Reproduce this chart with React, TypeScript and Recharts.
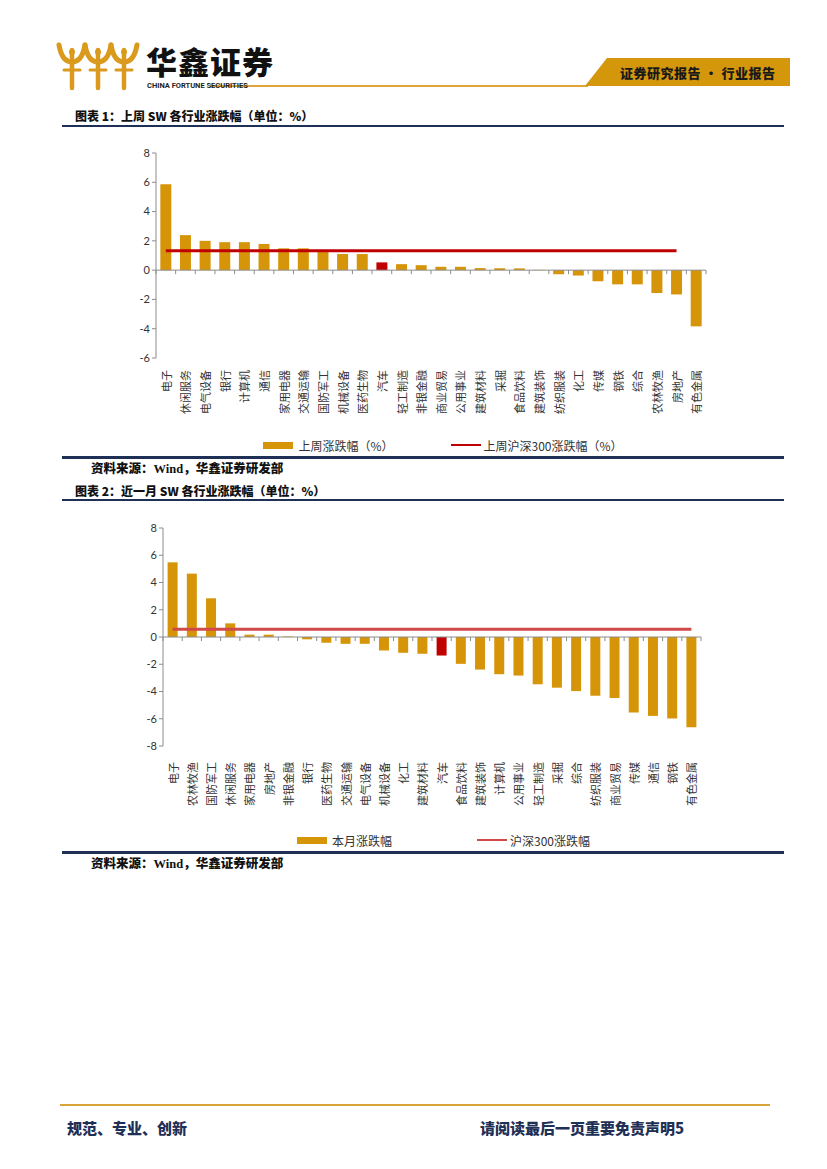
import { Bar, Cell, ComposedChart, Legend, Line, ReferenceLine, XAxis, YAxis } from 'recharts';

// 图表1：上周 SW 各行业涨跌幅
const weekCategories = [
  '电子', '休闲服务', '电气设备', '银行', '计算机', '通信', '家用电器', '交通运输', '国防军工', '机械设备',
  '医药生物', '汽车', '轻工制造', '非银金融', '商业贸易', '公用事业', '建筑材料', '采掘', '食品饮料', '建筑装饰',
  '纺织服装', '化工', '传媒', '钢铁', '综合', '农林牧渔', '房地产', '有色金属',
];
const weekChange = [
  5.86, 2.39, 2.0, 1.91, 1.91, 1.79, 1.49, 1.49, 1.3, 1.1,
  1.1, 0.53, 0.41, 0.34, 0.23, 0.23, 0.14, 0.13, 0.12, 0.02,
  -0.28, -0.37, -0.76, -0.97, -0.97, -1.56, -1.66, -3.84,
];
const weekHs300 = 1.33;
const weekHs300Points = 27; // line stops at 房地产 in the source
const weekTicks = [-6, -4, -2, 0, 2, 4, 6, 8];

// 图表2：近一月 SW 各行业涨跌幅
const monthCategories = [
  '电子', '农林牧渔', '国防军工', '休闲服务', '家用电器', '房地产', '非银金融', '银行', '医药生物', '交通运输',
  '电气设备', '机械设备', '化工', '建筑材料', '汽车', '食品饮料', '建筑装饰', '计算机', '公用事业', '轻工制造',
  '采掘', '综合', '纺织服装', '商业贸易', '传媒', '通信', '钢铁', '有色金属',
];
const monthChange = [
  5.48, 4.65, 2.84, 1.0, 0.17, 0.17, 0.04, -0.17, -0.42, -0.5,
  -0.5, -0.99, -1.16, -1.23, -1.36, -1.97, -2.39, -2.73, -2.83, -3.47,
  -3.72, -3.97, -4.31, -4.48, -5.54, -5.79, -5.98, -6.62,
];
const monthHs300 = 0.56;
const monthTicks = [-8, -6, -4, -2, 0, 2, 4, 6, 8];

const highlight = '汽车';

const GOLD = '#D69508';
const RED = '#C00000';
const PINK_RED = '#D04A4A';
const NAVY = '#1F3057';
const CJK = '"Noto Sans CJK SC", "Noto Sans", sans-serif';
const NUM = 'Lato, "Open Sans", sans-serif';
const SERIF_CJK = '"Liberation Serif", "Noto Sans CJK SC", serif';

const weekData = weekCategories.map((name, i) => ({
  name,
  value: weekChange[i],
  hs300: i < weekHs300Points ? weekHs300 : null,
}));
const monthData = monthCategories.map((name, i) => ({ name, value: monthChange[i], hs300: monthHs300 }));

function makeTick(offset: number) {
  return function CategoryTick({ x, y, payload }: any) {
    const ty = y + offset;
    return (
      <text
        x={x}
        y={ty}
        transform={`rotate(-90 ${x} ${ty})`}
        textAnchor="end"
        dominantBaseline="central"
        fontSize={11}
        fontFamily={CJK}
        fill="#333"
      >
        {payload.value}
      </text>
    );
  };
}

// zero-crossing category axis with downward ticks between categories
function makeZeroAxis(count: number) {
  return function ZeroAxis(props: any) {
    const { x1, x2, y1 } = props;
    const step = (x2 - x1) / count;
    const marks = [];
    for (let i = 0; i <= count; i++) {
      const xx = x1 + i * step;
      marks.push(<line key={i} x1={xx} x2={xx} y1={y1} y2={y1 + 4} stroke="#8c8c8c" strokeWidth={1} />);
    }
    return (
      <g>
        <line x1={x1} x2={x2} y1={y1} y2={y1} stroke="#8c8c8c" strokeWidth={1} />
        {marks}
      </g>
    );
  };
}

function ChartLegend({ barLabel, lineLabel, lineColor, gap, shift }: { barLabel: string; lineLabel: string; lineColor: string; gap: number; shift: number }) {
  return (
    <div
      style={{
        height: 30,
        paddingLeft: shift,
        display: 'flex',
        alignItems: 'center',
        justifyContent: 'center',
        fontFamily: CJK,
        fontSize: 12,
        color: '#333',
      }}
    >
      <span style={{ display: 'inline-block', width: 30, height: 7, background: GOLD, marginRight: 5 }} />
      <span>{barLabel}</span>
      <span style={{ display: 'inline-block', width: gap }} />
      <span style={{ display: 'inline-block', width: 30, height: 2, background: lineColor, marginRight: 3 }} />
      <span>{lineLabel}</span>
    </div>
  );
}

function Logo() {
  const figure = (cx: number) => (
    <g key={cx} fill="none" stroke="#D99A1E" strokeLinecap="round">
      <path d={`M ${cx - 13} ${45} Q ${cx - 10} ${62} ${cx} ${62} Q ${cx + 10} ${62} ${cx + 13} ${45}`} strokeWidth={5} />
      <path d={`M ${cx} ${50} L ${cx} ${88}`} strokeWidth={4.5} />
      <path d={`M ${cx - 8} ${70} L ${cx + 8} ${70}`} strokeWidth={3} />
      <circle cx={cx} cy={52} r={3} fill="#D99A1E" stroke="none" />
    </g>
  );
  return (
    <svg width={827} height={100} style={{ position: 'absolute', left: 0, top: 0 }}>
      {[72, 98, 124].map(figure)}
      <line x1={210} x2={588} y1={86} y2={86} stroke="#DDA53A" strokeWidth={2} />
      <polygon points="585,86 607,58 790,58 790,86" fill="#D4960B" />
    </svg>
  );
}

export default function App() {
  return (
    <div style={{ position: 'absolute', left: 0, top: 0, width: 827, height: 1169, background: '#fff', fontFamily: CJK }}>
      <Logo />
      <div style={{ position: 'absolute', left: 146, top: 38, fontSize: 31, fontWeight: 900, color: '#111', letterSpacing: 1 }}>
        华鑫证券
      </div>
      <div style={{ position: 'absolute', left: 147, top: 81, fontSize: 7.5, fontWeight: 700, fontFamily: 'Roboto, sans-serif', color: '#222' }}>
        CHINA FORTUNE SECURITIES
      </div>
      <div style={{ position: 'absolute', left: 620, top: 63, fontSize: 13, fontWeight: 900, color: '#1a1a1a', letterSpacing: 0.5 }}>
        证券研究报告 • 行业报告
      </div>

      {/* 图表1 */}
      <div style={{ position: 'absolute', left: 75, top: 107, fontSize: 12, fontWeight: 900, color: '#111' }}>
        图表 1：上周 SW 各行业涨跌幅（单位：%）
      </div>
      <div style={{ position: 'absolute', left: 62, top: 125, width: 722, height: 2, background: NAVY }} />

      <div style={{ position: 'absolute', left: 120, top: 140 }}>
        <ComposedChart width={600} height={320} data={weekData} margin={{ top: 13, right: 14, bottom: 0, left: 0 }} barCategoryGap="22%">
          <XAxis dataKey="name" interval={0} height={72} axisLine={false} tickLine={false} tickSize={0} tick={makeTick(10)} />
          <YAxis
            type="number"
            domain={[-6, 8]}
            ticks={weekTicks}
            width={36}
            stroke="#8c8c8c"
            tickSize={4}
            tick={{ fill: '#333', fontSize: 11, fontFamily: NUM }}
          />
          <ReferenceLine y={0} shape={makeZeroAxis(weekCategories.length)} />
          <Bar dataKey="value" isAnimationActive={false}>
            {weekData.map((d) => (
              <Cell key={d.name} fill={d.name === highlight ? RED : GOLD} />
            ))}
          </Bar>
          <Line dataKey="hs300" stroke={RED} strokeWidth={3} dot={false} isAnimationActive={false} />
          <Legend
            verticalAlign="bottom"
            content={() => (
              <ChartLegend barLabel="上周涨跌幅（%）" lineLabel="上周沪深300涨跌幅（%）" lineColor={RED} gap={57} shift={60} />
            )}
          />
        </ComposedChart>
      </div>

      <div style={{ position: 'absolute', left: 62, top: 456, width: 722, height: 2.5, background: NAVY }} />
      <div style={{ position: 'absolute', left: 91, top: 458, fontSize: 12.5, fontWeight: 900, color: '#111', fontFamily: SERIF_CJK }}>
        资料来源：Wind，华鑫证券研发部
      </div>

      {/* 图表2 */}
      <div style={{ position: 'absolute', left: 75, top: 482, fontSize: 12, fontWeight: 900, color: '#111' }}>
        图表 2：近一月 SW 各行业涨跌幅（单位：%）
      </div>
      <div style={{ position: 'absolute', left: 62, top: 499, width: 722, height: 2, background: NAVY }} />

      <div style={{ position: 'absolute', left: 120, top: 515 }}>
        <ComposedChart width={600} height={340} data={monthData} margin={{ top: 13, right: 19, bottom: 0, left: 0 }} barCategoryGap="24%">
          <XAxis dataKey="name" interval={0} height={79} axisLine={false} tickLine={false} tickSize={0} tick={makeTick(14)} />
          <YAxis
            type="number"
            domain={[-8, 8]}
            ticks={monthTicks}
            width={43}
            stroke="#8c8c8c"
            tickSize={4}
            tick={{ fill: '#333', fontSize: 11, fontFamily: NUM }}
          />
          <ReferenceLine y={0} shape={makeZeroAxis(monthCategories.length)} />
          <Bar dataKey="value" isAnimationActive={false}>
            {monthData.map((d) => (
              <Cell key={d.name} fill={d.name === highlight ? RED : GOLD} />
            ))}
          </Bar>
          <Line dataKey="hs300" stroke={PINK_RED} strokeWidth={3} dot={false} isAnimationActive={false} />
          <Legend
            verticalAlign="bottom"
            content={() => (
              <ChartLegend barLabel="本月涨跌幅" lineLabel="沪深300涨跌幅" lineColor={PINK_RED} gap={85} shift={66} />
            )}
          />
        </ComposedChart>
      </div>

      <div style={{ position: 'absolute', left: 62, top: 851, width: 722, height: 2.5, background: NAVY }} />
      <div style={{ position: 'absolute', left: 91, top: 853, fontSize: 12.5, fontWeight: 900, color: '#111', fontFamily: SERIF_CJK }}>
        资料来源：Wind，华鑫证券研发部
      </div>

      {/* 页脚 */}
      <div style={{ position: 'absolute', left: 60, top: 1104, width: 710, height: 2, background: '#D9A53A' }} />
      <div style={{ position: 'absolute', left: 67, top: 1117, fontSize: 15, fontWeight: 900, color: NAVY }}>规范、专业、创新</div>
      <div style={{ position: 'absolute', left: 480, top: 1117, fontSize: 15, fontWeight: 900, color: NAVY }}>
        请阅读最后一页重要免责声明5
      </div>
    </div>
  );
}
